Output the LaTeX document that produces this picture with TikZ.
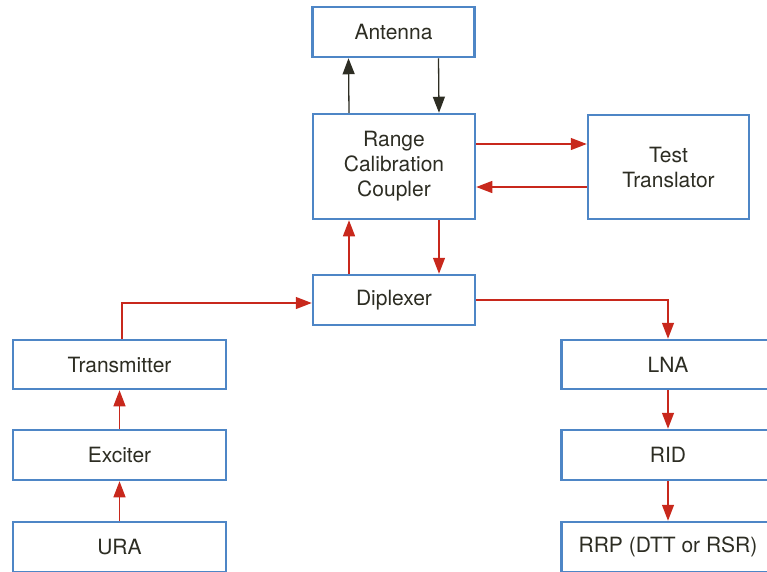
\documentclass[tikz,border=0pt]{standalone}
\usepackage{fontspec}
\setmainfont{TeX Gyre Heros}
\usetikzlibrary{arrows.meta}
\definecolor{boxblue}{RGB}{78,134,198}
\definecolor{sigred}{RGB}{200,40,28}
\definecolor{darkline}{RGB}{45,45,35}
\definecolor{labeltext}{RGB}{45,45,35}
\tikzset{
  blk/.style={draw=boxblue, line width=2.5pt, fill=white, rectangle,
    minimum width=162pt, minimum height=50pt, inner sep=0pt,
    align=center, text=labeltext,
    font=\fontsize{21pt}{25pt}\selectfont},
  wideblk/.style={blk, minimum width=213pt},
  rarr/.style={draw=sigred, line width=1.3pt,
    -{Triangle[length=16pt,width=12pt]}},
  darr/.style={draw=darkline, line width=1.3pt,
    -{Triangle[length=16pt,width=12pt]}}
}
\begin{document}
\begin{tikzpicture}[x=1pt,y=-1pt]
\useasboundingbox (0,0) rectangle (767,571);

% upper chain
\node[blk] (ant) at (393.5,32) {Antenna};
\node[blk, minimum height=105pt] (rcc) at (394,166.5) {Range\\Calibration\\Coupler};
\node[blk, minimum width=161pt, minimum height=104pt] (tt) at (668.5,167) {Test\\Translator};
\node[blk] (dip) at (394,300) {Diplexer};

% transmit side
\node[wideblk, minimum height=49pt] (tx) at (119.5,364.5) {Transmitter};
\node[wideblk] (exc) at (119.5,455) {Exciter};
\node[wideblk] (ura) at (119.5,547) {URA};

% receive side
\node[wideblk, minimum height=49pt] (lna) at (668,364.5) {LNA};
\node[wideblk] (rid) at (668,455) {RID};
\node[wideblk] (rrp) at (668,547) {RRP (DTT or RSR)};

% antenna link
\draw[darr] ([xshift=-45pt]rcc.north) -- ([xshift=-45pt]ant.south);
\draw[darr] ([xshift=45pt]ant.south) -- ([xshift=45pt]rcc.north);

% coupler and test translator
\draw[rarr] ([yshift=22.5pt]rcc.east) -- ([yshift=22.5pt]rcc.east -| tt.west);
\draw[rarr] ([yshift=-20pt]tt.west) -- ([yshift=-20pt]tt.west -| rcc.east);

% coupler and diplexer
\draw[rarr] ([xshift=-45pt]dip.north) -- ([xshift=-45pt]rcc.south);
\draw[rarr] ([xshift=45pt]rcc.south) -- ([xshift=45pt]dip.north);

% transmit chain
\draw[rarr] (ura) -- (exc);
\draw[rarr] (exc) -- (tx);
\draw[rarr] ([xshift=2.5pt]tx.north) |- ([yshift=-3pt]dip.west);

% receive chain
\draw[rarr] (dip.east) -| (lna.north);
\draw[rarr] (lna) -- (rid);
\draw[rarr] (rid) -- (rrp);
\end{tikzpicture}
\end{document}
